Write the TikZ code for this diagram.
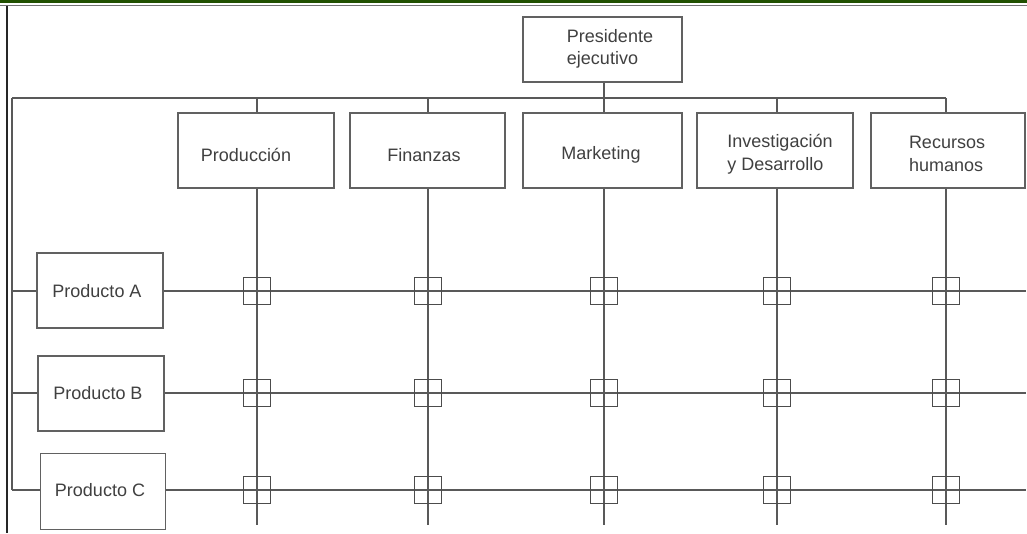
\documentclass[tikz,border=0pt]{standalone}
\usepackage{fontspec}
\setmainfont{Liberation Sans}
\begin{document}
\begin{tikzpicture}[x=1pt,y=-1pt,
  wire/.style={draw=black!65,line width=1.4pt},
  box/.style={draw=black!62,line width=1.5pt,fill=white,inner sep=0pt},
  lbl/.style={font=\fontsize{18}{22.5}\selectfont,text=black!75,align=left,inner sep=0pt},
  cell/.style={draw=black!70,line width=1.3pt,minimum size=27pt,inner sep=0pt}]
\useasboundingbox (0,0) rectangle (1027,533);
% page frame
\fill[green!25!black!75!olive] (0,0) rectangle (1027,3.4);
\draw[black!55,line width=1pt] (0,5.5) -- (1027,5.5);
\draw[black!85,line width=1.4pt] (7,6) -- (7,533);

% boxes
\node[box,minimum width=159pt,minimum height=65pt] (pres) at (602.5,49.5) {};
\node[lbl] (presT) at (610,49) {Presidente\\ejecutivo};

\node[box,minimum width=156pt,minimum height=75pt] (prod) at (256,150.5) {};
\node[box,minimum width=155pt,minimum height=75pt] (fin) at (427.5,150.5) {};
\node[box,minimum width=159pt,minimum height=75pt] (mkt) at (602.5,150.5) {};
\node[box,minimum width=156pt,minimum height=75pt] (inv) at (775,150.5) {};
\node[box,minimum width=154pt,minimum height=75pt] (rrhh) at (948,150.5) {};
\node[lbl] (prodT) at (246,155) {Producción};
\node[lbl] (finT) at (424,155) {Finanzas};
\node[lbl] (mktT) at (601,155) {Marketing};
\node[lbl] (invT) at (780,154) {Investigación\\y Desarrollo};
\node[lbl] (rrhhT) at (947,154) {Recursos\\humanos};

\node[box,minimum width=126pt,minimum height=75pt] (pa) at (100,290.5) {};
\node[box,minimum width=126pt,minimum height=75pt] (pb) at (101,393.5) {};
\node[box,minimum width=125pt,minimum height=76pt] (pc) at (103,491.5) {};
\node[lbl] (paT) at (97,291) {Producto A};
\node[lbl] (pbT) at (98,393) {Producto B};
\node[lbl] (pcT) at (100,490) {Producto C};

% column and row positions
\coordinate (busL) at (12,98);
\coordinate (busR) at (946,98);
\foreach \n/\x in {prod/257,fin/428,mkt/604,inv/777,rrhh/946}{
  \coordinate (\n top) at (\x,98);
  \coordinate (\n end) at (\x,525);
}
\coordinate (presbus) at (604,98);
\foreach \n/\y in {pa/291,pb/393,pc/490}{
  \coordinate (\n L) at (12,\y);
  \coordinate (\n R) at (1026,\y);
}

% connectors
\draw[wire] (pres.south -| presbus) -- (presbus);
\draw[wire] (busL) -- (busR);
\draw[wire] (busL) -- (pcL);
\foreach \n in {prod,fin,mkt,inv,rrhh}{
  \draw[wire] (\n top) -- (\n top |- \n.north);
  \draw[wire] (\n top |- \n.south) -- (\n end);
}
\foreach \n in {pa,pb,pc}{
  \draw[wire] (\n L) -- (\n L -| \n.west);
  \draw[wire] (\n R -| \n.east) -- (\n R);
}

% intersection markers
\foreach \n/\x in {prod/257,fin/428,mkt/604,inv/777,rrhh/946}{
  \foreach \r/\y in {pa/291,pb/393,pc/490}{
    \node[cell] (c\n\r) at (\x,\y) {};
  }
}
\end{tikzpicture}
\end{document}
